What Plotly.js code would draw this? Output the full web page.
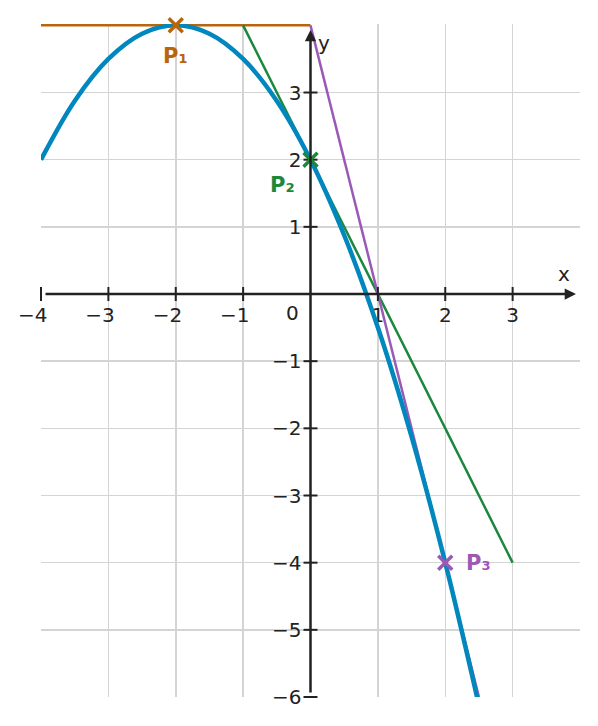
<!DOCTYPE html>
<html>
<head>
<meta charset="utf-8">
<script src="https://cdn.plot.ly/plotly-3.0.1.min.js"></script>
<style>html,body{margin:0;padding:0;background:#fff;}#chart{width:598px;height:726px;}</style>
</head>
<body>
<div id="chart"></div>
<script>
// Parabola
const curveX = [-4, -3.5, -3, -2.5, -2, -1.5, -1, -0.5, 0, 0.5, 1, 1.5, 2, 2.5];
const curveY = [2, 2.875, 3.5, 3.875, 4, 3.875, 3.5, 2.875, 2, 0.875, -0.5, -2.125, -4, -6.125];
// Tangent lines (end points)
const tan1X = [-4, 0];   const tan1Y = [4, 4];
const tan2X = [-1, 3];   const tan2Y = [4, -4];
const tan3X = [0, 2.5];  const tan3Y = [4, -6];
// Points
const pointNames = ['P₁', 'P₂', 'P₃'];
const pointX = [-2, 0, 2];
const pointY = [4, 2, -4];
// Ticks (negative x labels padded so the digit sits under the tick)
const xTicks = [-4, -3, -2, -1, 1, 2, 3];
const xTickText = ['−4\u2007\u2009', '−3\u2007\u2009', '−2\u2007\u2009', '−1\u2007\u2009', '1', '2', '3'];
const yTicks = [-6, -5, -4, -3, -2, -1, 1, 2, 3];
const yTickText = ['−6', '−5', '−4', '−3', '−2', '−1', '1', '2', '3'];
// Axis arrow extents
const xAxisFrom = -3.94, xAxisTo = 3.94;
const yAxisFrom = -5.94, yAxisTo = 3.93;

const cOrange = '#b8650c', cGreen = '#1b883e', cPurple = '#9b59b6', cBlue = '#0087bd', cAxis = '#222222';
const font = 'DejaVu Sans';

const traces = [
  {x: tan1X, y: tan1Y, mode: 'lines', line: {color: cOrange, width: 2.5}, hoverinfo: 'skip'},
  {x: tan2X, y: tan2Y, mode: 'lines', line: {color: cGreen, width: 2.5}, hoverinfo: 'skip'},
  {x: tan3X, y: tan3Y, mode: 'lines', line: {color: cPurple, width: 2.5}, hoverinfo: 'skip'},
  {x: curveX, y: curveY, mode: 'lines', line: {color: cBlue, width: 4.5, shape: 'spline'}, hoverinfo: 'skip'},
  {x: xTicks, y: xTicks.map(() => 0), mode: 'markers', marker: {symbol: 'line-ns-open', size: 10, color: cAxis, line: {color: cAxis, width: 2}}, hoverinfo: 'skip', cliponaxis: false},
  {x: yTicks.map(() => 0), y: yTicks, mode: 'markers', marker: {symbol: 'line-ew-open', size: 10, color: cAxis, line: {color: cAxis, width: 2}}, hoverinfo: 'skip', cliponaxis: false},
  {x: pointX, y: pointY, mode: 'markers', cliponaxis: false, hoverinfo: 'skip',
   marker: {symbol: 'x-thin-open', size: 14, color: [cOrange, cGreen, cPurple], line: {color: [cOrange, cGreen, cPurple], width: 3.5}}}
];

const arrowBase = {text: '', showarrow: true, arrowhead: 2, arrowsize: 0.9, arrowwidth: 2.5, arrowcolor: cAxis,
                   axref: 'x', ayref: 'y', font: {size: 1}, borderpad: 0, standoff: 0, startstandoff: 0};
const annotations = [
  {x: -2, y: 3.55, text: '<b>' + pointNames[0] + '</b>', showarrow: false, font: {family: font, size: 21, color: cOrange}},
  {x: -0.41, y: 1.62, text: '<b>' + pointNames[1] + '</b>', showarrow: false, font: {family: font, size: 21, color: cGreen}},
  {x: 2.5, y: -4.0, text: '<b>' + pointNames[2] + '</b>', showarrow: false, font: {family: font, size: 21, color: cPurple}},
  {x: 3.76, y: 0.3, text: 'x', showarrow: false, font: {family: font, size: 20, color: cAxis}},
  {x: 0.2, y: 3.74, text: 'y', showarrow: false, font: {family: font, size: 20, color: cAxis}},
  {x: -0.26, y: -0.29, text: '0', showarrow: false, font: {family: font, size: 20, color: cAxis}},
  Object.assign({}, arrowBase, {x: xAxisTo, y: 0, ax: xAxisFrom, ay: 0}),
  Object.assign({}, arrowBase, {x: 0, y: yAxisTo, ax: 0, ay: yAxisFrom})
];

const layout = {
  width: 598, height: 726,
  margin: {l: 41, r: 18, t: 24, b: 29},
  paper_bgcolor: '#ffffff', plot_bgcolor: '#ffffff',
  showlegend: false,
  font: {family: font, size: 20, color: cAxis},
  xaxis: {range: [-4, 4], tickvals: xTicks, ticktext: xTickText, ticks: '', showline: false,
          anchor: 'free', position: 0.5988, showgrid: true, gridcolor: '#d4d4d4', gridwidth: 1.5,
          zeroline: false, layer: 'below traces', fixedrange: true,
          ticklabelstandoff: 7,
          tickfont: {family: font, size: 20, color: cAxis}},
  yaxis: {range: [-6, 4.02], tickvals: yTicks, ticktext: yTickText, ticks: '', showline: false,
          anchor: 'free', position: 0.5, showgrid: true, gridcolor: '#d4d4d4', gridwidth: 1.5,
          zeroline: false, layer: 'below traces', fixedrange: true,
          ticklabelstandoff: 9,
          tickfont: {family: font, size: 20, color: cAxis}},
  annotations: annotations
};

Plotly.newPlot('chart', traces, layout, {displayModeBar: false, staticPlot: true});
</script>
</body>
</html>
